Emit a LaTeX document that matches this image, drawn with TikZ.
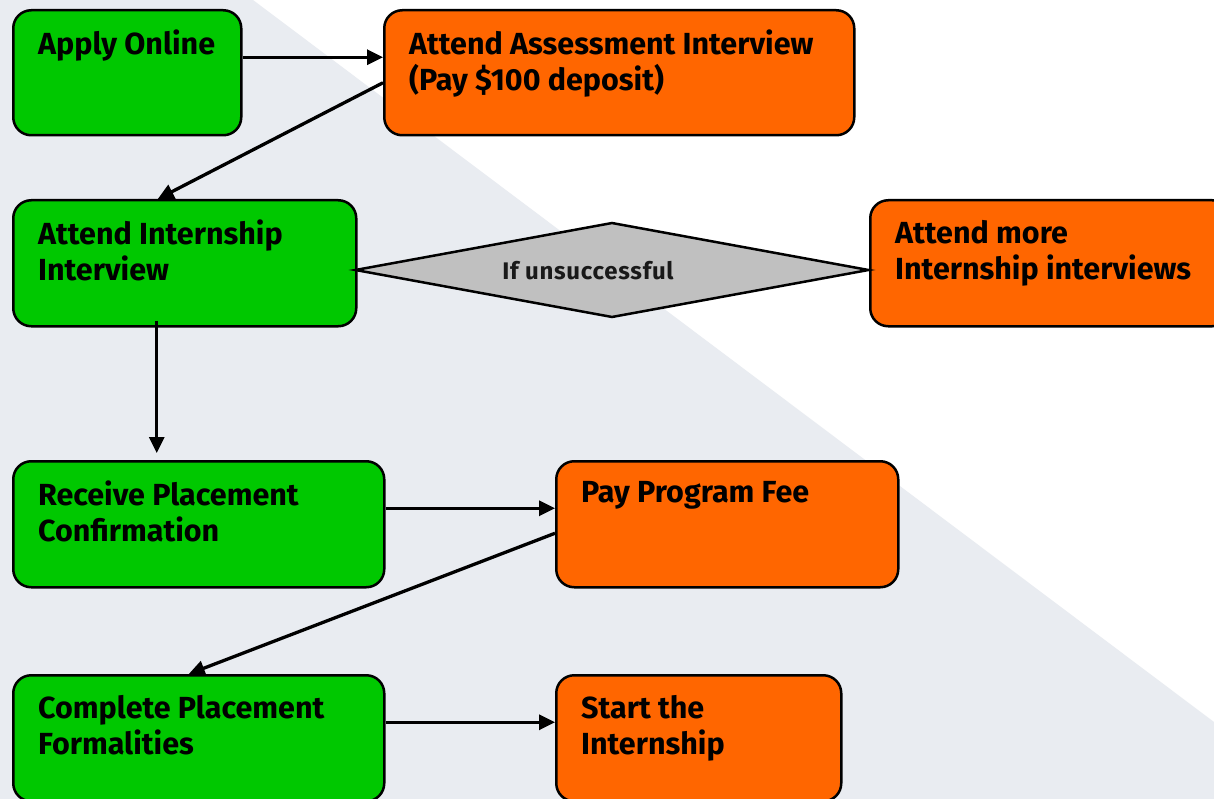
\documentclass[tikz,border=0pt]{standalone}
\usepackage{fontspec}
\setmainfont{Fira Sans}
\newfontfamily\stagefont{Fira Sans}
\newfontfamily\checkfont{Fira Sans}[LetterSpace=3]
\usetikzlibrary{shapes.geometric,arrows.meta}

\definecolor{stagegreen}{RGB}{0,200,0}
\definecolor{stageorange}{RGB}{255,102,0}
\definecolor{checkgray}{RGB}{192,192,192}
\definecolor{backgray}{RGB}{233,236,241}

\tikzset{
  stage/.style={draw=black, line width=2.5pt, rounded corners=18pt,
    anchor=north west, inner sep=0pt, minimum height=126pt},
  greenstage/.style={stage, fill=stagegreen},
  orangestage/.style={stage, fill=stageorange},
  caption/.style={anchor=north west, align=left, inner sep=0pt,
    xshift=26pt, yshift=-21pt,
    font=\stagefont\bfseries\fontsize{30.5}{36}\selectfont},
  flow/.style={line width=3.3pt, -{Triangle[length=16pt,width=15pt]}},
}

\begin{document}
\begin{tikzpicture}[x=1pt,y=-1pt]

\clip (0,0) rectangle (1214,799);
\fill[white] (0,0) rectangle (1214,799);
\fill[backgray] (253,0) -- (0,0) -- (0,799) -- (1214,799) -- (1214,722) -- cycle;

% left column
\node[greenstage, minimum width=228pt, minimum height=125pt,
  label={[caption]north west:Apply Online}] (apply) at (12,9) {};
\node[greenstage, minimum width=343pt,
  label={[caption]north west:{Attend Internship\\Interview}}] (intern) at (12,199) {};
\node[greenstage, minimum width=371pt,
  label={[caption]north west:{Receive Placement\\Confirmation}}] (confirm) at (12,460) {};
\node[greenstage, minimum width=371pt,
  label={[caption]north west:{Complete Placement\\Formalities}}] (formal) at (12,674) {};

% right column
\node[orangestage, minimum width=470pt, minimum height=125pt,
  label={[caption]north west:{Attend Assessment Interview\\(Pay \$100 deposit)}}] (assess) at (383,9) {};
\node[orangestage, minimum width=360pt,
  label={[caption]north west:{Attend more\\Internship interviews}}] (more) at (869,199) {};
\node[orangestage, minimum width=342pt,
  label={[caption]north west:Pay Program Fee}] (fee) at (555,460) {};
\node[orangestage, minimum width=285pt,
  label={[caption]north west:{Start the\\Internship}}] (start) at (555,674) {};

% decision
\node[diamond, draw=black, line width=2.5pt, fill=checkgray, inner sep=0pt,
  minimum width=514pt, minimum height=95pt,
  label={[font=\checkfont\bfseries\fontsize{24}{28}\selectfont, text=black!90, xshift=-24pt, yshift=-1pt]center:If unsuccessful}]
  (check) at (612,270) {};

% connectors
\draw[flow] ([yshift=15.5pt]apply.east) -- ([yshift=15.5pt]assess.west);
\draw[flow] ([yshift=-10pt]assess.west) -- ([xshift=-27pt]intern.north);
\draw[flow] ([xshift=-28pt,yshift=7pt]intern.south) -- ([xshift=-28pt,yshift=7pt]intern.south |- confirm.north);
\draw[flow] ([yshift=16pt]confirm.east) -- ([yshift=16pt]fee.west);
\draw[flow] ([yshift=-9pt]fee.west) -- ([xshift=-10pt]formal.north);
\draw[flow] ([yshift=16pt]formal.east) -- ([yshift=16pt]start.west);

\end{tikzpicture}
\end{document}
